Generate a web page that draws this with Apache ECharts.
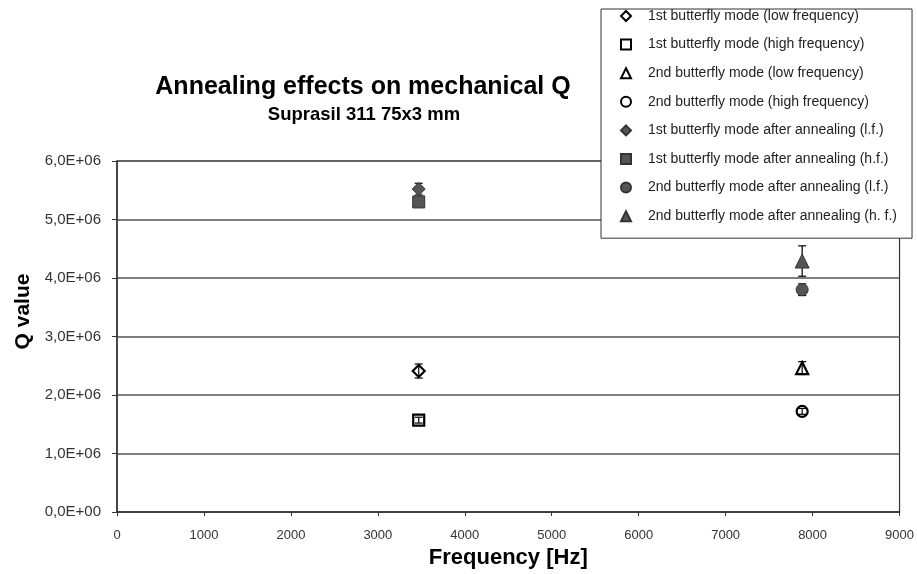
<!DOCTYPE html>
<html>
<head>
<meta charset="utf-8">
<script src="https://cdn.jsdelivr.net/npm/echarts@6/dist/echarts.min.js"></script>
<style>html,body{margin:0;padding:0;background:#fff}#c{width:917px;height:574px}</style>
</head>
<body>
<div id="c"></div>
<script>
// Series names
const seriesNames = [
  '1st butterfly mode (low frequency)',
  '1st butterfly mode (high frequency)',
  '2nd butterfly mode (low frequency)',
  '2nd butterfly mode (high frequency)',
  '1st butterfly mode after annealing (l.f.)',
  '1st butterfly mode after annealing (h.f.)',
  '2nd butterfly mode after annealing (l.f.)',
  '2nd butterfly mode after annealing (h. f.)'
];
// [frequency Hz, Q value, error]
const firstLow     = [[3470, 2.41e6, 0.12e6]];
const firstHigh    = [[3470, 1.57e6, 0.05e6]];
const secondLow    = [[7880, 2.46e6, 0.11e6]];
const secondHigh   = [[7880, 1.72e6, 0.05e6]];
const firstAnnLF   = [[3470, 5.52e6, 0.10e6]];
const firstAnnHF   = [[3470, 5.30e6, 0.05e6]];
const secondAnnLF  = [[7880, 3.80e6, 0.10e6]];
const secondAnnHF  = [[7880, 4.29e6, 0.26e6]];

const seriesData = [firstLow, firstHigh, secondLow, secondHigh, firstAnnLF, firstAnnHF, secondAnnLF, secondAnnHF];
const symbols = ['diamond', 'rect', 'triangle', 'circle', 'diamond', 'rect', 'circle', 'triangle'];
const sizes = [12, 11, 12, 11, 13, 12, 12, 14];
const filled = [false, false, false, false, true, true, true, true];

const chart = echarts.init(document.getElementById('c'));

function fmtY(v) {
  if (v === 0) return '0,0E+00';
  return (v / 1e6).toFixed(1).replace('.', ',') + 'E+06';
}

const series = [];
seriesData.forEach((d, i) => {
  series.push({
    type: 'custom',
    name: 'err' + i,
    data: d,
    z: 1,
    silent: true,
    renderItem: function (params, api) {
      const x = api.value(0), y = api.value(1), e = api.value(2);
      const top = api.coord([x, y + e]);
      const bot = api.coord([x, y - e]);
      const st = { stroke: '#000', lineWidth: 1.2 };
      return {
        type: 'group',
        children: [
          { type: 'line', shape: { x1: top[0], y1: top[1], x2: bot[0], y2: bot[1] }, style: st },
          { type: 'line', shape: { x1: top[0] - 4, y1: top[1], x2: top[0] + 4, y2: top[1] }, style: st },
          { type: 'line', shape: { x1: bot[0] - 4, y1: bot[1], x2: bot[0] + 4, y2: bot[1] }, style: st }
        ]
      };
    }
  });
  series.push({
    type: 'scatter',
    name: seriesNames[i],
    data: d.map(p => [p[0], p[1]]),
    symbol: symbols[i],
    symbolSize: sizes[i],
    z: 3,
    itemStyle: filled[i]
      ? { color: '#555555', borderColor: '#333333', borderWidth: 1, opacity: 1 }
      : { color: 'rgba(255,255,255,0)', borderColor: '#000', borderWidth: 2.2, opacity: 1 }
  });
});

chart.setOption({
  backgroundColor: '#fff',
  animation: false,
  title: [
    { text: 'Annealing effects on mechanical Q', left: 358, top: 70, textAlign: 'center',
      textStyle: { fontFamily: 'Liberation Sans', fontWeight: 'bold', fontSize: 25, color: '#000' } },
    { text: 'Suprasil 311 75x3 mm', left: 359, top: 100, textAlign: 'center',
      textStyle: { fontFamily: 'Liberation Sans', fontWeight: 'bold', fontSize: 18.5, color: '#000' } }
  ],
  legend: {
    data: seriesNames,
    orient: 'vertical',
    left: 601,
    top: 9,
    backgroundColor: '#fff',
    borderColor: '#333',
    borderWidth: 1,
    borderRadius: 0,
    padding: [0, 15, 15, 19],
    itemWidth: 10,
    itemHeight: 10,
    itemGap: 14.6,
    textStyle: { fontFamily: 'Liberation Sans', fontSize: 14, color: '#222', lineHeight: 14, padding: [0, 0, 0, 12] }
  },
  grid: { left: 117, right: 17, top: 161, bottom: 62, show: true, borderColor: '#333', borderWidth: 1.2, backgroundColor: 'transparent' },
  xAxis: {
    type: 'value', min: 0, max: 9000, interval: 1000,
    name: 'Frequency [Hz]', nameLocation: 'middle', nameGap: 35,
    nameTextStyle: { fontFamily: 'Liberation Sans', fontWeight: 'bold', fontSize: 22, color: '#000' },
    axisLine: { show: true, lineStyle: { color: '#333', width: 1.5 } },
    axisTick: { show: true, length: 4, lineStyle: { color: '#333' } },
    axisLabel: { fontFamily: 'Liberation Sans', fontSize: 13, color: '#333', margin: 17, formatter: v => String(v) },
    splitLine: { show: false }
  },
  yAxis: {
    type: 'value', min: 0, max: 6e6, interval: 1e6,
    name: 'Q value', nameLocation: 'middle', nameGap: 83, nameRotate: 90,
    nameTextStyle: { fontFamily: 'Liberation Sans', fontWeight: 'bold', fontSize: 21, color: '#000', padding: [0, 0, 0, 50] },
    axisLine: { show: true, lineStyle: { color: '#333', width: 1.5 } },
    axisTick: { show: true, length: 5, lineStyle: { color: '#333' } },
    axisLabel: { fontFamily: 'Liberation Sans', fontSize: 15, color: '#333', margin: 16, formatter: fmtY },
    splitLine: { show: true, lineStyle: { color: '#555', width: 1.5 } }
  },
  series: series
});
</script>
</body>
</html>
